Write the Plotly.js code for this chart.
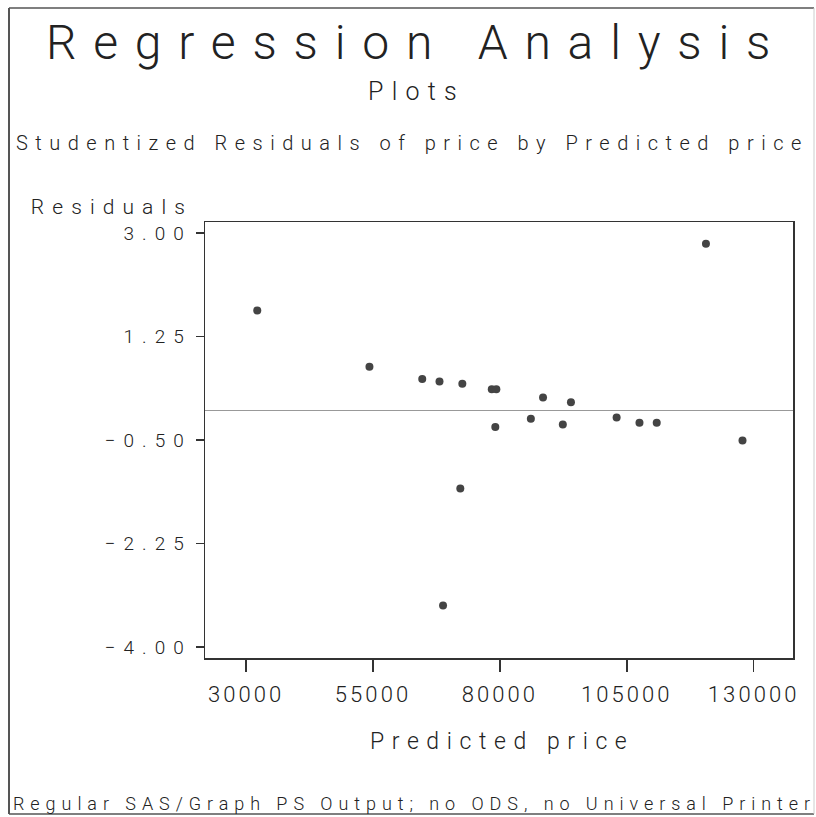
<!DOCTYPE html>
<html>
<head>
<meta charset="utf-8">
<script src="https://cdn.plot.ly/plotly-3.0.1.min.js"></script>
<style>
  html, body { margin: 0; padding: 0; background: #fff; }
  #chart { width: 816px; height: 817px; }
  svg text { letter-spacing: 0.33em; }
  .xtick text { letter-spacing: 0.14em; }
  .ytick text { letter-spacing: 0.42em; }
  .annotation[data-index="0"] text { letter-spacing: 0.35em; }
  .annotation[data-index="2"] text { letter-spacing: 0.375em; }
  .annotation[data-index="3"] text { letter-spacing: 0.385em; }
</style>
</head>
<body>
<div id="chart"></div>
<script>
// Predicted price (x) and studentized residuals (y)
const predictedPrice = [32200, 54300, 64700, 68100, 68800, 72200, 72600, 78400, 79100, 79300,
                        86100, 88500, 92400, 94000, 103000, 107500, 110900, 120600, 127800];
const studentizedResiduals = [1.69, 0.74, 0.53, 0.49, -3.30, -1.32, 0.45, 0.36, -0.28, 0.36,
                              -0.14, 0.22, -0.24, 0.14, -0.12, -0.21, -0.21, 2.82, -0.51];

const titleText = "Regression Analysis";
const subTitleText = "Plots";
const plotTitleText = "Studentized Residuals of price by Predicted price";
const yLabelText = "Residuals";
const xLabelText = "Predicted price";
const footnoteText = "Regular SAS/Graph PS Output; no ODS, no Universal Printer";

const FONT = "Roboto, 'DejaVu Sans', sans-serif";
const INK = "#222";

// pixel -> paper helpers (plot area: x 205..793, y 222..658)
const L = 205, T = 222, W = 588, H = 436;
const px = p => (p - L) / W;
const py = p => (T + H - p) / H;

const trace = {
  type: "scatter",
  mode: "markers",
  x: predictedPrice,
  y: studentizedResiduals,
  marker: { color: "#444", size: 8 },
  hoverinfo: "x+y",
  showlegend: false
};

function ann(text, x, y, size) {
  return {
    text: text, xref: "paper", yref: "paper",
    x: px(x), y: py(y), xanchor: "center", yanchor: "middle",
    showarrow: false,
    font: { family: FONT, size: size, color: INK, weight: 300 }
  };
}

function line(x0, y0, x1, y1, color, w) {
  return { type: "line", xref: "paper", yref: "paper",
    x0: px(x0), y0: py(y0), x1: px(x1), y1: py(y1),
    line: { color: color, width: w } };
}

const layout = {
  width: 816, height: 817,
  margin: { l: L, r: 816 - L - W, t: T, b: 817 - T - H, pad: 0 },
  paper_bgcolor: "#fff", plot_bgcolor: "#fff",
  showlegend: false,
  xaxis: {
    range: [21900, 137750],
    tickmode: "linear", tick0: 30000, dtick: 25000, tickformat: "d",
    showgrid: false, zeroline: false,
    showline: true, mirror: true, linecolor: "#333", linewidth: 1.5,
    ticks: "outside", ticklen: 12, tickwidth: 1.5, tickcolor: "#333",
    ticklabelstandoff: 4,
    tickfont: { family: FONT, size: 22, color: INK, weight: 300 }
  },
  yaxis: {
    range: [-4.186, 3.186],
    tickmode: "linear", tick0: 3, dtick: 1.75, tickformat: ".2f",
    showgrid: false,
    zeroline: true, zerolinecolor: "#999", zerolinewidth: 1,
    showline: true, mirror: true, linecolor: "#333", linewidth: 1.5,
    ticks: "outside", ticklen: 8, tickwidth: 1.5, tickcolor: "#333",
    tickfont: { family: FONT, size: 19, color: INK, weight: 300 }
  },
  annotations: [
    ann(titleText, 416.5, 43, 48),
    ann(subTitleText, 416, 92, 25),
    ann(plotTitleText, 412.5, 143, 20),
    ann(yLabelText, 112, 207.5, 21),
    ann(xLabelText, 502, 741, 23),
    ann(footnoteText, 414, 803, 18)
  ],
  shapes: [
    line(9, 8, 814, 8, "#555", 1.5),
    line(9, 8, 9, 814, "#555", 2),
    line(9, 814, 814, 814, "#555", 1.5),
    line(814, 8, 814, 814, "#ccc", 1)
  ]
};

Plotly.newPlot("chart", [trace], layout, { displayModeBar: false, staticPlot: true });
</script>
</body>
</html>
